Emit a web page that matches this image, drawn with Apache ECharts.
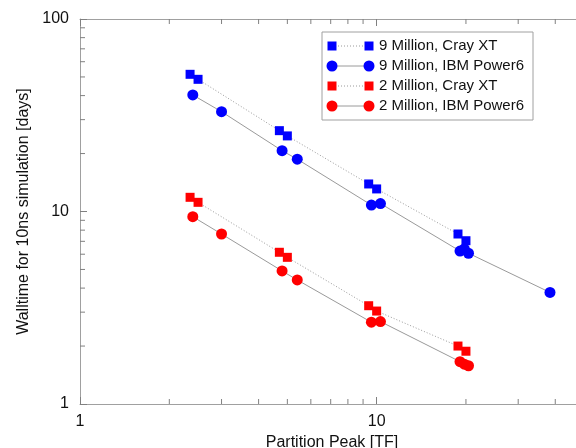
<!DOCTYPE html>
<html>
<head>
<meta charset="utf-8">
<script src="https://cdn.jsdelivr.net/npm/echarts@6/dist/echarts.min.js"></script>
<style>
  html, body { margin: 0; padding: 0; background: #fff; }
  #chart { width: 576px; height: 448px; }
</style>
</head>
<body>
<div id="chart"></div>
<script>
// Walltime for a 10 ns simulation vs. partition peak performance
const seriesNames = ['9 Million, Cray XT', '9 Million, IBM Power6', '2 Million, Cray XT', '2 Million, IBM Power6'];

const crayPeak = [2.35, 2.5, 4.7, 5.0, 9.4, 10.0, 18.8, 20.0];
const cray9M = [51.6, 48.6, 26.3, 24.7, 13.9, 13.1, 7.64, 7.05];
const cray2M = [11.85, 11.16, 6.14, 5.78, 3.24, 3.04, 2.00, 1.88];

const power6Peak9M = [2.4, 3.0, 4.8, 5.4, 9.6, 10.3, 19.1, 19.75, 20.4, 38.4];
const power6_9M = [40.3, 33.0, 20.7, 18.7, 10.8, 11.0, 6.23, 6.39, 6.07, 3.80];
const power6Peak2M = [2.4, 3.0, 4.8, 5.4, 9.6, 10.3, 19.1, 19.75, 20.4];
const power6_2M = [9.40, 7.64, 4.91, 4.41, 2.66, 2.68, 1.66, 1.61, 1.58];

const xMinorTicks = [2, 3, 4, 5, 6, 7, 8, 9, 20, 30, 40];
const yMinorTicks = [2, 3, 4, 5, 6, 7, 8, 9, 20, 30, 40, 50, 60, 70, 80, 90];

const FONT = '"Liberation Sans", Arial, sans-serif';
const BLUE = '#0000ff';
const RED = '#ff0000';
const LINE_GRAY = '#9a9a9a';
const AXIS_GRAY = '#a0a0a0';

const zip = (xs, ys) => xs.map((x, i) => [x, ys[i]]);

const styles = [
  { color: BLUE, symbol: 'rect', size: 9, dash: 'dotted', data: zip(crayPeak, cray9M) },
  { color: BLUE, symbol: 'circle', size: 11, dash: 'solid', data: zip(power6Peak9M, power6_9M) },
  { color: RED, symbol: 'rect', size: 9, dash: 'dotted', data: zip(crayPeak, cray2M) },
  { color: RED, symbol: 'circle', size: 11, dash: 'solid', data: zip(power6Peak2M, power6_2M) }
];

const chart = echarts.init(document.getElementById('chart'), null, { renderer: 'canvas' });

const logAxisCommon = {
  type: 'log',
  logBase: 10,
  min: 1,
  axisLine: { show: true, onZero: false, lineStyle: { color: AXIS_GRAY, width: 1 } },
  axisTick: { show: true, inside: true, length: 7, lineStyle: { color: '#808080' } },
  splitLine: { show: false },
  minorTick: { show: false }
};

// Minor ticks drawn through the axis scales at log positions
function minorTickSeries(values, dir) {
  return {
    type: 'custom',
    silent: true,
    z: 1,
    clip: false,
    data: values.map(v => [v]),
    renderItem: function (params, api) {
      const v = api.value(0);
      const style = { stroke: '#808080', lineWidth: 1 };
      const L = 5;
      if (dir === 'x') {
        const b = api.coord([v, 1]);
        const t = api.coord([v, 100]);
        return {
          type: 'group',
          children: [
            { type: 'line', shape: { x1: b[0], y1: b[1], x2: b[0], y2: b[1] - L }, style },
            { type: 'line', shape: { x1: t[0], y1: t[1], x2: t[0], y2: t[1] + L }, style }
          ]
        };
      } else {
        const l = api.coord([1, v]);
        return { type: 'line', shape: { x1: l[0], y1: l[1], x2: l[0] + L, y2: l[1] }, style };
      }
    }
  };
}

// Legend box with a marker at both ends of each sample line
function legendGraphic() {
  const x0 = 322, y0 = 32, w = 211, h = 88;
  const rowY = [46, 66, 86, 106];
  const children = [{
    type: 'rect', shape: { x: x0, y: y0, width: w, height: h },
    style: { fill: '#fff', stroke: AXIS_GRAY, lineWidth: 1 }
  }];
  styles.forEach((s, i) => {
    const y = rowY[i];
    children.push({
      type: 'line', shape: { x1: 332, y1: y, x2: 369, y2: y },
      style: { stroke: LINE_GRAY, lineWidth: 1, lineDash: s.dash === 'dotted' ? [1, 2] : null }
    });
    [332, 369].forEach(cx => {
      if (s.symbol === 'rect') {
        children.push({ type: 'rect', shape: { x: cx - s.size / 2, y: y - s.size / 2, width: s.size, height: s.size }, style: { fill: s.color } });
      } else {
        children.push({ type: 'circle', shape: { cx: cx, cy: y, r: s.size / 2 }, style: { fill: s.color } });
      }
    });
    children.push({
      type: 'text', x: 379, y: y,
      style: { text: seriesNames[i], font: '15px ' + FONT, fill: '#111', verticalAlign: 'middle' }
    });
  });
  return { type: 'group', z: 100, children };
}

chart.setOption({
  animation: false,
  backgroundColor: '#fff',
  grid: { left: 80, top: 19, bottom: 44, right: -8, containLabel: false, outerBoundsMode: 'none' },
  xAxis: [
    Object.assign({}, logAxisCommon, {
      max: 50,
      position: 'bottom',
      name: 'Partition Peak [TF]',
      nameLocation: 'middle',
      nameGap: 26,
      nameTextStyle: { fontFamily: FONT, fontSize: 16, color: '#111' },
      axisLabel: { show: true, margin: 10, fontFamily: FONT, fontSize: 16, color: '#111', showMaxLabel: false }
    }),
    Object.assign({}, logAxisCommon, {
      max: 50,
      position: 'top',
      axisLabel: { show: false }
    })
  ],
  yAxis: [
    Object.assign({}, logAxisCommon, {
      max: 100,
      position: 'left',
      name: 'Walltime for 10ns simulation [days]',
      nameLocation: 'middle',
      nameGap: 47,
      nameTextStyle: { fontFamily: FONT, fontSize: 16, color: '#111' },
      axisLabel: { show: true, margin: 11, fontFamily: FONT, fontSize: 16, color: '#111' }
    }),
    Object.assign({}, logAxisCommon, {
      max: 100,
      position: 'right',
      axisLabel: { show: false }
    })
  ],
  series: styles.map((s, i) => ({
    type: 'line',
    name: seriesNames[i],
    data: s.data,
    symbol: s.symbol,
    symbolSize: s.size,
    showAllSymbol: true,
    z: 3,
    itemStyle: { color: s.color, borderWidth: 0 },
    lineStyle: { color: LINE_GRAY, width: 1, type: s.dash === 'dotted' ? [1, 2] : 'solid' },
    emphasis: { disabled: true }
  })).concat([minorTickSeries(xMinorTicks, 'x'), minorTickSeries(yMinorTicks, 'y')]),
  graphic: [legendGraphic()]
});
</script>
</body>
</html>
